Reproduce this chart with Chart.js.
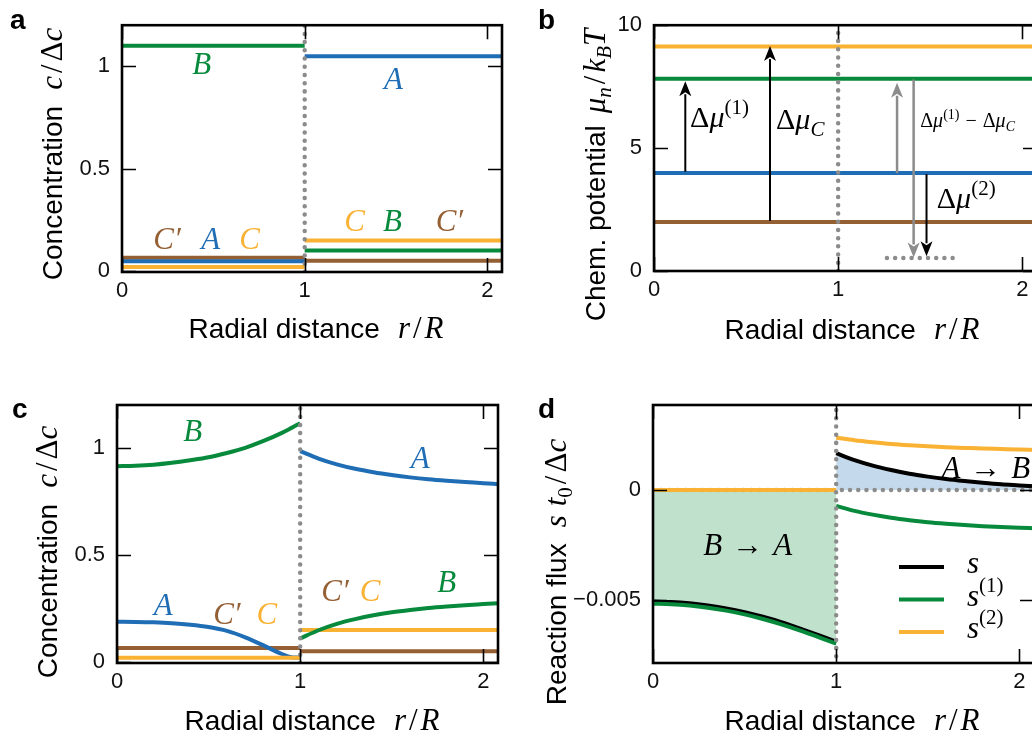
<!DOCTYPE html>
<html>
<head>
<meta charset="utf-8">
<script src="https://cdn.jsdelivr.net/npm/chart.js@4/dist/chart.umd.min.js"></script>
<style>
html,body{margin:0;padding:0;background:#fff;overflow:hidden;width:1032px;height:740px;}
canvas{position:absolute;}
</style>
</head>
<body>
<canvas id="pa" width="520" height="370" style="left:0;top:0"></canvas>
<canvas id="pb" width="540" height="370" style="left:520px;top:0"></canvas>
<canvas id="pc" width="520" height="370" style="left:0;top:370px"></canvas>
<canvas id="pd" width="540" height="370" style="left:520px;top:370px"></canvas>
<script>
// ---------- data ----------
const xTicks = [0, 1, 2];
const concTicks = [0, 0.5, 1];
const concTickLabels = ['0', '0.5', '1'];
const muTicks = [0, 5, 10];
const muTickLabels = ['0', '5', '10'];
const fluxTicks = [-0.005, 0];
const fluxTickLabels = ['\u22120.005', '0'];

const species = ['A', 'B', 'C', 'C\u2032'];

// panel a: uniform concentrations, inside / outside the droplet
const edgeIn = [0, 1];
const edgeOut = [1, 2.08];
const aInside = [0.047, 1.10, 0.02, 0.065];
const aOutside = [1.048, 0.10, 0.149, 0.05];

// panel b: chemical potentials
const muLevel = [3.99, 7.82, 9.13, 1.99];
const arrowX = [0.17, 0.63, 1.32, 1.41, 1.48];
const arrowFrom = [4.04, 2.04, 3.98, 7.79, 3.94];
const arrowTo = [7.72, 9.15, 7.66, 0.55, 0.6];
const arrowGray = [false, false, true, true, false];
const baseX = [1.265, 1.63];
const baseY = [0.53, 0.53];

// panel c: concentration profiles
const rIn = [0, 0.1, 0.2, 0.3, 0.4, 0.5, 0.6, 0.7, 0.8, 0.9, 0.95, 1];
const rOut = [1, 1.1, 1.2, 1.3, 1.4, 1.5, 1.6, 1.7, 1.8, 1.9, 2, 2.08];
const cA_in = [0.188, 0.187, 0.185, 0.181, 0.174, 0.163, 0.145, 0.115, 0.077, 0.037, 0.022, 0.02];
const cB_in = [0.914, 0.916, 0.921, 0.93, 0.942, 0.956, 0.976, 1.0, 1.032, 1.07, 1.092, 1.115];
const cA_out = [0.985, 0.95, 0.923, 0.902, 0.886, 0.873, 0.862, 0.853, 0.846, 0.84, 0.835, 0.83];
const cB_out = [0.11, 0.148, 0.178, 0.2, 0.218, 0.232, 0.243, 0.252, 0.259, 0.265, 0.27, 0.274];
const cC_flat = [0.02, 0.149];   // inside, outside
const cCp_flat = [0.065, 0.05];

// panel d: reaction fluxes
const dIn = [0, 0.1, 0.2, 0.3, 0.4, 0.5, 0.6, 0.7, 0.8, 0.9, 1];
const s_in = [-0.00505, -0.00507, -0.00513, -0.00523, -0.00536, -0.00553, -0.00574, -0.00598, -0.00626, -0.00656, -0.00687];
const s1_in = [-0.00515, -0.00517, -0.00523, -0.00533, -0.00546, -0.00563, -0.00584, -0.00608, -0.00635, -0.00665, -0.00695];
const s2_in = [0, 0, 0, 0, 0, 0, 0, 0, 0, 0, 0];
const s_out = [0.00166, 0.00135, 0.0011, 0.0009, 0.00073, 0.0006, 0.00049, 0.0004, 0.00032, 0.00025, 0.0002, 0.00016];
const s1_out = [-0.00072, -0.00095, -0.00112, -0.00126, -0.00137, -0.00146, -0.00153, -0.00159, -0.00164, -0.00168, -0.00171, -0.00173];
const s2_out = [0.00236, 0.00225, 0.00216, 0.00208, 0.00202, 0.00197, 0.00193, 0.0019, 0.00187, 0.00185, 0.00183, 0.00181];

// ---------- style ----------
const BLUE = '#1f6db4', GREEN = '#078a3c', YELLOW = '#f9b233', BROWN = '#955f34';
const GRAY = '#8c8c8c', FILLG = '#c0e2cd', FILLB = '#c5d9ec';
const speciesColor = [BLUE, GREEN, YELLOW, BROWN];
const SANS = '"Liberation Sans", Arial, sans-serif';
const SERIF = '"Liberation Serif", "DejaVu Serif", serif';
const TS = 28;   // axis title size
const MS = 31;   // math size

function pts(xs, ys) { return xs.map((x, i) => ({x: x, y: ys[i]})); }
function line(data, color, order, extra) {
  return Object.assign({data: data, borderColor: color, borderWidth: 4, pointRadius: 0,
    fill: false, cubicInterpolationMode: 'monotone', order: order}, extra || {});
}
function dotted(data, order) {
  return {data: data, borderColor: GRAY, borderWidth: 4.5, borderDash: [0.01, 8.2],
    borderCapStyle: 'round', pointRadius: 0, fill: false, order: order};
}

// rich text segments
function S(t, size, gap) { return {t: t, f: size + 'px ' + SANS, dy: 0, gap: gap || 0}; }
function I(t, size, dy, gap) { return {t: t, f: 'italic ' + size + 'px ' + SERIF, dy: dy || 0, gap: gap || 0}; }
function R(t, size, dy, gap) { return {t: t, f: size + 'px ' + SERIF, dy: dy || 0, gap: gap || 0}; }

function rich(ctx, segs, x, y, align) {
  let w = 0;
  segs.forEach(s => { ctx.font = s.f; s.w = ctx.measureText(s.t).width + s.gap; w += s.w; });
  let cx = align === 'center' ? x - w / 2 : x;
  ctx.textAlign = 'left';
  ctx.textBaseline = 'alphabetic';
  segs.forEach(s => { ctx.font = s.f; ctx.fillText(s.t, cx, y + s.dy); cx += s.w; });
}
function richV(ctx, segs, x, y) {
  ctx.save();
  ctx.translate(x, y);
  ctx.rotate(-Math.PI / 2);
  rich(ctx, segs, 0, 0, 'center');
  ctx.restore();
}

const xTitle = () => [S('Radial distance', TS, 18), I('r', MS, 0, 3), R('/', MS, 0, 3), I('R', MS)];
const concTitle = () => [S('Concentration', TS, 16), I('c', MS, 0, 3), R('/', MS, 0, 3), R('\u0394', MS), I('c', MS)];
const muTitle = () => [S('Chem. potential', TS, 12), I('\u03bc', MS), I('n', 21, 6, 3), R('/', MS, 0, 3), I('k', MS), I('B', 21, 6), I('T', MS)];
const fluxTitle = () => [S('Reaction flux', TS, 16), I('s', MS, 0, 9), I('t', MS), R('0', 21, 6, 3), R('/', MS, 0, 3), R('\u0394', MS), I('c', MS)];

function frameAndTicks(chart) {
  const ctx = chart.ctx, a = chart.chartArea, x = chart.scales.x, y = chart.scales.y;
  ctx.save();
  ctx.strokeStyle = '#000';
  ctx.lineWidth = 1.6;
  ctx.beginPath();
  x.ticks.forEach(t => {
    const p = Math.round(x.getPixelForValue(t.value)) + 0.5;
    ctx.moveTo(p, a.bottom); ctx.lineTo(p, a.bottom - 14);
    ctx.moveTo(p, a.top); ctx.lineTo(p, a.top + 14);
  });
  y.ticks.forEach(t => {
    const p = Math.round(y.getPixelForValue(t.value)) + 0.5;
    ctx.moveTo(a.left, p); ctx.lineTo(a.left + 14, p);
    ctx.moveTo(a.right, p); ctx.lineTo(a.right - 14, p);
  });
  ctx.stroke();
  ctx.lineWidth = 2.6;
  ctx.strokeRect(a.left, a.top, a.right - a.left, a.bottom - a.top);
  ctx.restore();
}

function labelsAt(chart, list) {
  const ctx = chart.ctx, x = chart.scales.x, y = chart.scales.y;
  ctx.save();
  ctx.textAlign = 'center';
  ctx.textBaseline = 'middle';
  ctx.font = 'italic ' + MS + 'px ' + SERIF;
  list.forEach(l => { ctx.fillStyle = l[3]; ctx.fillText(l[0], x.getPixelForValue(l[1]), y.getPixelForValue(l[2])); });
  ctx.restore();
}

function options(xmax, ymin, ymax, yTicks, yLabels, padTop, padRight, yWidth, xHeight) {
  return {
    responsive: false, animation: false, events: [],
    layout: {padding: {top: padTop, right: padRight, left: 0, bottom: 0}},
    plugins: {legend: {display: false}, tooltip: {enabled: false}},
    scales: {
      x: {type: 'linear', min: 0, max: xmax,
        afterFit: s => { s.height = xHeight; },
        afterBuildTicks: s => { s.ticks = xTicks.map(v => ({value: v})); },
        grid: {display: false, drawTicks: false}, border: {display: false},
        ticks: {padding: 6, color: '#111', font: {family: SANS, size: 22}, maxRotation: 0, autoSkip: false,
          callback: v => String(v)}},
      y: {type: 'linear', min: ymin, max: ymax,
        afterFit: s => { s.width = yWidth; },
        afterBuildTicks: s => { s.ticks = yTicks.map(v => ({value: v})); },
        grid: {display: false, drawTicks: false}, border: {display: false},
        ticks: {padding: 12, color: '#111', font: {family: SANS, size: 22}, autoSkip: false,
          callback: v => yLabels[yTicks.indexOf(v)]}}
    }
  };
}

function letter(ctx, t, x, y) {
  ctx.save();
  ctx.fillStyle = '#000';
  ctx.font = 'bold 28px ' + SANS;
  ctx.textAlign = 'left';
  ctx.textBaseline = 'alphabetic';
  ctx.fillText(t, x, y);
  ctx.restore();
}

// ---------- panel a ----------
const dsA = [];
species.forEach((n, i) => {
  dsA.push(line(pts(edgeIn, [aInside[i], aInside[i]]), speciesColor[i], 1));
  dsA.push(line(pts(edgeOut, [aOutside[i], aOutside[i]]), speciesColor[i], 1));
});
dsA.push(dotted(pts([1, 1], [-0.005, 1.2]), 0));

new Chart(document.getElementById('pa'), {
  type: 'line',
  data: {datasets: dsA},
  options: options(2.08, -0.005, 1.2, concTicks, concTickLabels, 13, 18, 122, 98),
  plugins: [{id: 'decoA', afterDraw(chart) {
    const ctx = chart.ctx;
    frameAndTicks(chart);
    labelsAt(chart, [
      ['B', 0.437, 1.0, GREEN], ['A', 1.486, 0.926, BLUE],
      ['C\u2032', 0.246, 0.149, BROWN], ['A', 0.486, 0.149, BLUE], ['C', 0.699, 0.149, YELLOW],
      ['C', 1.273, 0.237, YELLOW], ['B', 1.481, 0.237, GREEN], ['C\u2032', 1.792, 0.237, BROWN]
    ]);
    ctx.fillStyle = '#000';
    richV(ctx, concTitle(), 62, 154);
    rich(ctx, xTitle(), 316, 338, 'center');
    letter(ctx, 'a', 10, 29);
  }}]
});

// ---------- panel b ----------
const dsB = [];
species.forEach((n, i) => {
  dsB.push(line(pts([0, 2.08], [muLevel[i], muLevel[i]]), speciesColor[i], 1));
});
dsB.push(dotted(pts([1, 1], [0, 10]), 0));
dsB.push(dotted(pts(baseX, baseY), 0));

function arrow(ctx, px, y0, y1, color, lw) {
  const dir = y1 < y0 ? -1 : 1;
  const hl = 15, hw = 6;
  ctx.save();
  ctx.strokeStyle = color; ctx.fillStyle = color; ctx.lineWidth = lw;
  ctx.beginPath();
  ctx.moveTo(px, y0); ctx.lineTo(px, y1 - dir * (hl - 2));
  ctx.stroke();
  ctx.beginPath();
  ctx.moveTo(px, y1);
  ctx.lineTo(px - hw, y1 - dir * hl);
  ctx.lineTo(px, y1 - dir * (hl - 4));
  ctx.lineTo(px + hw, y1 - dir * hl);
  ctx.closePath();
  ctx.fill();
  ctx.restore();
}

new Chart(document.getElementById('pb'), {
  type: 'line',
  data: {datasets: dsB},
  options: options(2.08, 0, 10, muTicks, muTickLabels, 13, 23, 134, 99),
  plugins: [{id: 'decoB', afterDraw(chart) {
    const ctx = chart.ctx, x = chart.scales.x, y = chart.scales.y;
    arrowX.forEach((ax, i) => {
      arrow(ctx, x.getPixelForValue(ax), y.getPixelForValue(arrowFrom[i]), y.getPixelForValue(arrowTo[i]),
        arrowGray[i] ? GRAY : '#000', arrowGray[i] ? 2.5 : 2);
    });
    frameAndTicks(chart);
    ctx.fillStyle = '#000';
    rich(ctx, [R('\u0394', 30), I('\u03bc', 30), R('(1)', 21, -13)], x.getPixelForValue(0.196), y.getPixelForValue(5.85));
    rich(ctx, [R('\u0394', 30), I('\u03bc', 30), I('C', 21, 7)], x.getPixelForValue(0.663), y.getPixelForValue(5.79));
    rich(ctx, [R('\u0394', 20), I('\u03bc', 20), R('(1)', 14, -8, 6), R('\u2212', 20, 0, 6), R('\u0394', 20), I('\u03bc', 20), I('C', 14, 4)],
      x.getPixelForValue(1.446), y.getPixelForValue(5.85));
    rich(ctx, [R('\u0394', 30), I('\u03bc', 30), R('(2)', 21, -13)], x.getPixelForValue(1.536), y.getPixelForValue(2.56));
    richV(ctx, muTitle(), 85, 175);
    rich(ctx, xTitle(), 332, 339, 'center');
    letter(ctx, 'b', 18, 29);
  }}]
});

// ---------- panel c ----------
const dsC = [
  dotted(pts([1, 1], [-0.005, 1.2]), 0),
  line(pts(rIn, cB_in), GREEN, 1),
  line(pts(rOut, cB_out), GREEN, 1),
  line(pts(edgeIn, [cC_flat[0], cC_flat[0]]), YELLOW, 2),
  line(pts(edgeOut, [cC_flat[1], cC_flat[1]]), YELLOW, 2),
  line(pts(rIn, cA_in), BLUE, 3),
  line(pts(rOut, cA_out), BLUE, 3),
  line(pts(edgeIn, [cCp_flat[0], cCp_flat[0]]), BROWN, 4),
  line(pts(edgeOut, [cCp_flat[1], cCp_flat[1]]), BROWN, 4)
];

new Chart(document.getElementById('pc'), {
  type: 'line',
  data: {datasets: dsC},
  options: options(2.08, -0.005, 1.2, concTicks, concTickLabels, 35, 22, 117, 77),
  plugins: [{id: 'decoC', afterDraw(chart) {
    const ctx = chart.ctx;
    frameAndTicks(chart);
    labelsAt(chart, [
      ['B', 0.414, 1.07, GREEN], ['A', 1.655, 0.945, BLUE],
      ['A', 0.253, 0.255, BLUE], ['C\u2032', 0.6, 0.216, BROWN], ['C', 0.818, 0.216, YELLOW],
      ['C\u2032', 1.19, 0.325, BROWN], ['C', 1.382, 0.325, YELLOW], ['B', 1.8, 0.363, GREEN]
    ]);
    ctx.fillStyle = '#000';
    richV(ctx, concTitle(), 57, 182);
    rich(ctx, xTitle(), 312, 360, 'center');
    letter(ctx, 'c', 12, 48);
  }}]
});

// ---------- panel d ----------
const dsD = [
  dotted(pts([1, 1], [-0.0079, 0.0039]), 0),
  line(pts(dIn, s1_in), GREEN, 1),
  line(pts(rOut, s1_out), GREEN, 1),
  line(pts(dIn, s2_in), YELLOW, 1),
  line(pts(rOut, s2_out), YELLOW, 1),
  dotted(pts([0, 2.08], [0, 0]), 2),
  line(pts(dIn, s_in), '#000', 3, {fill: 'origin', backgroundColor: FILLG}),
  line(pts(rOut, s_out), '#000', 3, {fill: 'origin', backgroundColor: FILLB})
];

new Chart(document.getElementById('pd'), {
  type: 'line',
  data: {datasets: dsD},
  options: options(2.08, -0.00783, 0.00384, fluxTicks, fluxTickLabels, 35, 26, 133, 77),
  plugins: [{id: 'decoD', afterDraw(chart) {
    const ctx = chart.ctx, a = chart.chartArea, x = chart.scales.x, y = chart.scales.y;
    frameAndTicks(chart);
    ctx.fillStyle = '#000';
    rich(ctx, [I('B', MS, 0, 10), R('\u2192', MS, 0, 10), I('A', MS)], x.getPixelForValue(0.517), y.getPixelForValue(-0.00244) + 11, 'center');
    rich(ctx, [I('A', MS, 0, 10), R('\u2192', MS, 0, 10), I('B', MS)], x.getPixelForValue(1.817), y.getPixelForValue(0.00104) + 11, 'center');
    // legend
    const lx = a.left + 246, ly = a.top + 162;
    [['#000', [I('s', MS)]],
     [GREEN, [I('s', MS), R('(1)', 21, -14)]],
     [YELLOW, [I('s', MS), R('(2)', 21, -14)]]].forEach((e, i) => {
      ctx.save();
      ctx.strokeStyle = e[0]; ctx.lineWidth = 4;
      ctx.beginPath(); ctx.moveTo(lx, ly + i * 32.5); ctx.lineTo(lx + 45, ly + i * 32.5); ctx.stroke();
      ctx.restore();
      ctx.fillStyle = '#000';
      rich(ctx, e[1], lx + 68, ly + i * 32.5 + 6);
    });
    ctx.fillStyle = '#000';
    richV(ctx, fluxTitle(), 46, 202);
    rich(ctx, xTitle(), 332, 360, 'center');
    letter(ctx, 'd', 18, 48);
  }}]
});
</script>
</body>
</html>
